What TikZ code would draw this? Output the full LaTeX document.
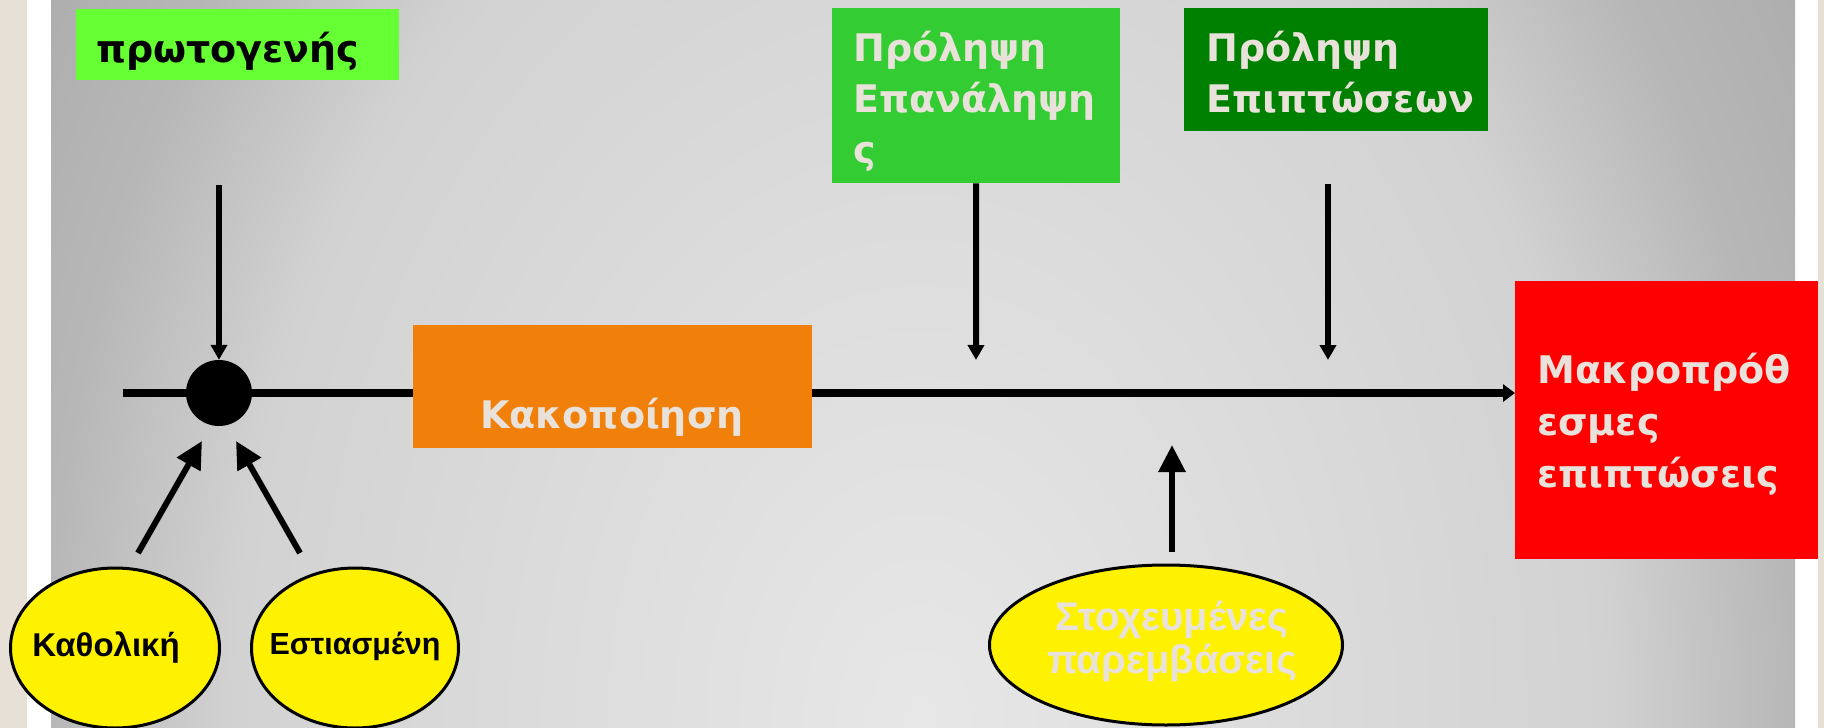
\documentclass[tikz,border=0pt]{standalone}
\usepackage{fontspec}
\usetikzlibrary{arrows.meta,shapes.geometric}
\newfontfamily\dvfam{DejaVu Sans}
\newfontfamily\lbfam{Liberation Sans}
\newcommand\hdrfont{\dvfam\bfseries\fontsize{38}{51}\selectfont}
\newcommand\hdrfontR{\dvfam\bfseries\fontsize{38}{52}\selectfont}
\newcommand\ovfontA{\lbfam\bfseries\fontsize{33}{36}\selectfont}
\newcommand\ovfontE{\lbfam\bfseries\fontsize{30.5}{36}\selectfont}
\newcommand\ovfontB{\lbfam\bfseries\fontsize{40}{43}\selectfont}
\definecolor{gA}{gray}{0.906}
\definecolor{gB}{gray}{0.863}
\definecolor{gC}{gray}{0.824}
\definecolor{gD}{gray}{0.718}
\definecolor{gE}{gray}{0.667}
\definecolor{gF}{gray}{0.647}
\definecolor{txtlight}{RGB}{232,226,218}
\definecolor{lgreen}{HTML}{66FF33}
\definecolor{mgreen}{HTML}{33CC33}
\definecolor{dgreen}{HTML}{008000}
\definecolor{orng}{HTML}{F0800A}
\definecolor{beigeside}{HTML}{E6E0D6}
\pgfdeclareradialshading{bgrad}{\pgfpoint{0bp}{0bp}}{color(0bp)=(gA); color(6.67bp)=(gB); color(12.67bp)=(gC); color(16.17bp)=(gD); color(20bp)=(gE); color(50bp)=(gF)}
\begin{document}
\begin{tikzpicture}[x=1pt,y=-1pt,
  box/.style={rectangle, inner sep=0pt, draw=none, anchor=north west},
  lbl/.style={font=\hdrfont, text=txtlight, inner sep=0pt, align=left, anchor=base west},
  oval/.style={ellipse, draw=black, line width=3pt, fill=yellow, inner sep=0pt, minimum height=160pt},
  ovtxt/.style={inner sep=0pt, align=center},
  arr/.style={line width=6pt, -{Triangle[width=16pt,length=15pt]}},
  bigarr/.style={line width=6pt, -{Triangle[width=26pt,length=27pt]}},
  mainline/.style={line width=8pt},
  mainarr/.style={line width=8pt, -{Triangle[width=17pt,length=12pt]}}]
\useasboundingbox (0,0) rectangle (1824,728);
% side strips and background
\fill[white] (0,0) rectangle (1824,728);
\fill[beigeside] (0,0) rectangle (27,728);
\fill[beigeside] (1818,0) rectangle (1824,728);
\begin{scope}
  \clip (51,0) rectangle (1795,728);
  \shade[shading=bgrad] (920,720) ellipse [x radius=1350, y radius=1875];
\end{scope}
% boxes
\node[box, fill=lgreen, minimum width=323pt, minimum height=71pt] (prot) at (76,9) {};
\node[box, fill=mgreen, minimum width=288pt, minimum height=175pt] (rep) at (832,8) {};
\node[box, fill=dgreen, minimum width=304pt, minimum height=123pt] (epi) at (1184,8) {};
\node[box, fill=orng, minimum width=399pt, minimum height=123pt] (abuse) at (413,325) {};
\node[box, fill=red, minimum width=303pt, minimum height=278pt] (outc) at (1515,281) {};
% texts (base anchor = baseline of the last line)
\node[lbl, text=black] (protT) at (96,62) {πρωτογενής};
\node[lbl] (repT) at (853,163) {Πρόληψη\\Επανάληψη\\ς};
\node[lbl] (epiT) at (1206,112) {Πρόληψη\\Επιπτώσεων};
\node[lbl, anchor=base] (abuseT) at (612,428) {Κακοποίηση};
\node[lbl, font=\hdrfontR] (outcT) at (1537,487) {Μακροπρόθ\\εσμες\\επιπτώσεις};
% ovals
\node[oval, minimum width=209pt] (kath) at (115,648) {};
\node[oval, minimum width=207pt] (esti) at (355,648) {};
\node[oval, minimum width=353pt] (stox) at (1166,645) {};
\node[ovtxt, font=\ovfontA] (kathT) at (106,648) {Καθολική};
\node[ovtxt, font=\ovfontE] (estiT) at (355,646) {Εστιασμένη};
\node[ovtxt, font=\ovfontB, text=txtlight] (stoxT) at (1172,641) {Στοχευμένες\\παρεμβάσεις};
% coordinates
\coordinate (lineStart) at (123,393);
\coordinate (protS) at (219,185);
\coordinate (repE) at (976,360);
\coordinate (epiS) at (1328,184);
\coordinate (epiE) at (1328,360);
\coordinate (kathS) at (138,553);
\coordinate (kathE) at (202,441);
\coordinate (estiS) at (300,553);
\coordinate (estiE) at (236,441);
\coordinate (stoxS) at (1172,552);
\coordinate (stoxE) at (1172,445);
% main line
\draw[mainline] (lineStart) -- (lineStart -| abuse.west);
\draw[mainarr] (abuse.east |- lineStart) -- (outc.west |- lineStart);
\node[circle, fill=black, inner sep=0pt, minimum size=66pt] (dot) at (219,393) {};
% arrows
\draw[arr] (protS) -- (dot.north);
\draw[arr] (rep.south) -- (repE);
\draw[arr] (epiS) -- (epiE);
\draw[bigarr] (kathS) -- (kathE);
\draw[bigarr] (estiS) -- (estiE);
\draw[bigarr] (stoxS) -- (stoxE);
\end{tikzpicture}
\end{document}
